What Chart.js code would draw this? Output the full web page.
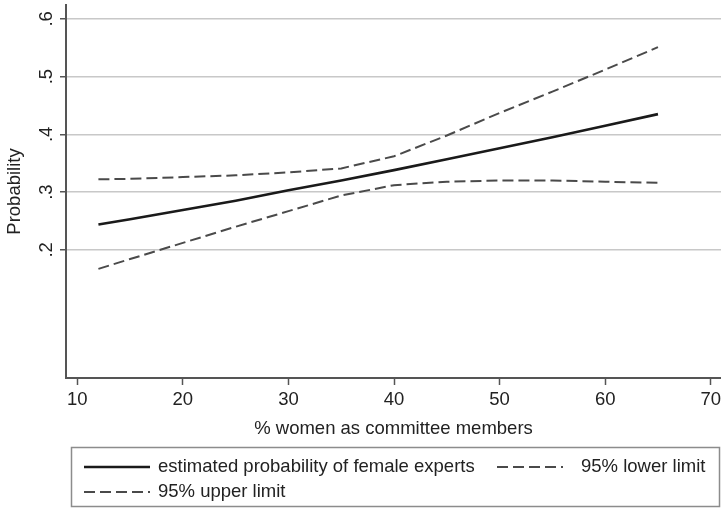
<!DOCTYPE html>
<html>
<head>
<meta charset="utf-8">
<script src="https://cdn.jsdelivr.net/npm/chart.js@4.4.1/dist/chart.umd.min.js"></script>
<style>
  html, body { margin: 0; padding: 0; background: #fff; }
</style>
</head>
<body>
<canvas id="grafico" width="721" height="508"></canvas>
<script>
// valores
const pctMulheres = [12, 15, 20, 25, 30, 35, 40, 45, 50, 55, 60, 65];
const probEstimada = [0.244, 0.253, 0.269, 0.285, 0.303, 0.320, 0.338, 0.357, 0.376, 0.395, 0.415, 0.435];
const limiteInferior = [0.167, 0.184, 0.212, 0.240, 0.267, 0.294, 0.312, 0.318, 0.320, 0.320, 0.318, 0.316];
const limiteSuperior = [0.322, 0.323, 0.326, 0.329, 0.334, 0.341, 0.362, 0.398, 0.437, 0.474, 0.512, 0.551];
const ticksX = [10, 20, 30, 40, 50, 60, 70];
const ticksY = [0.2, 0.3, 0.4, 0.5, 0.6];
const rotulos = ['estimated probability of female experts', '95% lower limit', '95% upper limit'];

const fonte = '"Liberation Sans", Arial, sans-serif';
const tamFonte = 18.5;

function pontos(ys) {
  return pctMulheres.map((x, i) => ({ x: x, y: ys[i] }));
}

// legenda no estilo do Stata, com moldura
const legendaStata = {
  id: 'legendaStata',
  afterDraw(chart) {
    const ctx = chart.ctx;
    const ds = chart.data.datasets;
    const itens = [
      { i: 0, x: 84, y: 467, tx: 158 },
      { i: 1, x: 497, y: 467, tx: 581 },
      { i: 2, x: 84, y: 492, tx: 158 }
    ];
    ctx.save();
    ctx.strokeStyle = '#8c8c8c';
    ctx.lineWidth = 1.5;
    ctx.strokeRect(71.5, 447.5, 648, 59);
    ctx.font = tamFonte + 'px ' + fonte;
    ctx.textBaseline = 'middle';
    ctx.fillStyle = '#222';
    itens.forEach(it => {
      const d = ds[it.i];
      ctx.beginPath();
      ctx.setLineDash(d.borderDash || []);
      ctx.lineWidth = d.borderWidth;
      ctx.strokeStyle = d.borderColor;
      ctx.moveTo(it.x, it.y);
      ctx.lineTo(it.x + 66, it.y);
      ctx.stroke();
      ctx.setLineDash([]);
      ctx.fillText(d.label, it.tx, it.y);
    });
    ctx.restore();
  }
};

new Chart(grafico, {
  type: 'line',
  data: {
    datasets: [
      { label: rotulos[0], data: pontos(probEstimada), borderColor: '#1a1a1a', borderWidth: 2.6, pointRadius: 0, fill: false },
      { label: rotulos[1], data: pontos(limiteInferior), borderColor: '#4a4a4a', borderWidth: 2, borderDash: [11, 5], pointRadius: 0, fill: false },
      { label: rotulos[2], data: pontos(limiteSuperior), borderColor: '#4a4a4a', borderWidth: 2, borderDash: [11, 5], pointRadius: 0, fill: false }
    ]
  },
  options: {
    responsive: false,
    animation: false,
    layout: { padding: { top: 5, right: 0, bottom: 68, left: 0 } },
    plugins: {
      legend: { display: false },
      tooltip: { enabled: false }
    },
    scales: {
      x: {
        type: 'linear',
        min: 8.93,
        max: 70.97,
        afterBuildTicks: s => { s.ticks = ticksX.map(v => ({ value: v })); },
        afterFit: s => { s.height = 62; s.paddingLeft = 0; s.paddingRight = 0; },
        ticks: { color: '#222', font: { family: fonte, size: tamFonte }, padding: 4, minRotation: 0, maxRotation: 0, autoSkip: false },
        grid: { drawOnChartArea: false, drawTicks: true, tickLength: 7, tickColor: '#555', tickWidth: 1.5 },
        border: { color: '#555', width: 2 },
        title: { display: true, text: '% women as committee members', color: '#222', font: { family: fonte, size: tamFonte }, padding: { top: 0, bottom: 0 } }
      },
      y: {
        min: -0.022,
        max: 0.624,
        afterBuildTicks: s => { s.ticks = ticksY.map(v => ({ value: v })); },
        afterFit: s => { s.width = 66; s.paddingTop = 0; s.paddingBottom = 0; },
        ticks: {
          color: '#222',
          font: { family: fonte, size: tamFonte },
          minRotation: 90,
          maxRotation: 90,
          crossAlign: 'center',
          padding: 5,
          callback: v => v.toFixed(1).replace(/^0/, '')
        },
        grid: { color: '#c8c8c8', lineWidth: 1.5, tickLength: 6, tickColor: '#555', tickWidth: 1.5 },
        border: { color: '#555', width: 2 },
        title: { display: true, text: 'Probability', color: '#222', font: { family: fonte, size: tamFonte }, padding: { top: 4, bottom: 0 } }
      }
    }
  },
  plugins: [legendaStata]
});
</script>
</body>
</html>
